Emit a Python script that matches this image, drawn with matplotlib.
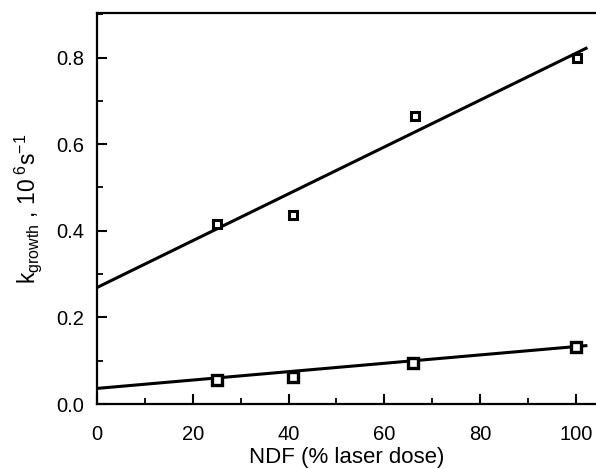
import matplotlib
matplotlib.use("Agg")
import matplotlib.pyplot as plt
from matplotlib.ticker import MultipleLocator

plt.rcParams['font.family'] = ['Liberation Sans', 'DejaVu Sans']
plt.rcParams['mathtext.fontset'] = 'custom'
plt.rcParams['mathtext.rm'] = 'Liberation Sans'
plt.rcParams['mathtext.it'] = 'Liberation Sans'

# measured points (NDF %, k_growth in 10^6 s^-1)
ndf_upper = [25, 41, 66.3, 100.3]
k_upper = [0.415, 0.436, 0.665, 0.800]
ndf_lower = [25, 41, 66, 100]
k_lower = [0.055, 0.063, 0.094, 0.132]

# fitted lines, end points
fit_x = [0, 102.4]
fit_upper = [0.269, 0.823]
fit_lower = [0.036, 0.135]

fig = plt.figure(figsize=(5.96, 4.69), dpi=100)
ax = fig.add_axes([97 / 596, 65 / 469, 499 / 596, 391 / 469])

ax.plot(fit_x, fit_upper, color='black', lw=2.2, solid_capstyle='butt')
ax.plot(fit_x, fit_lower, color='black', lw=2.2, solid_capstyle='butt')
ax.plot(ndf_upper, k_upper, ls='none', marker='s', ms=6, mfc='white',
        mec='black', mew=2.2)
ax.plot(ndf_lower, k_lower, ls='none', marker='s', ms=7, mfc='white',
        mec='black', mew=2.4)

ax.set_xlim(0, 104.2)
ax.set_ylim(0, 0.903)
ax.xaxis.set_major_locator(MultipleLocator(20))
ax.xaxis.set_minor_locator(MultipleLocator(10))
ax.yaxis.set_major_locator(MultipleLocator(0.2))
ax.yaxis.set_minor_locator(MultipleLocator(0.1))
ax.yaxis.set_major_formatter(plt.FuncFormatter(lambda v, p: f"{v:.1f}"))

ax.spines['right'].set_visible(False)
for s in ['left', 'bottom', 'top']:
    ax.spines[s].set_linewidth(1.6)

ax.tick_params(axis='both', which='major', direction='in', length=7, width=1.5,
               labelsize=14.5)
ax.tick_params(axis='both', which='minor', direction='in', length=4, width=1.3)
ax.tick_params(axis='x', which='major', pad=15)
ax.tick_params(axis='y', which='major', pad=9)

ax.set_xlabel('NDF (% laser dose)', fontsize=16, labelpad=2)
ax.set_ylabel(r'k$_{\mathrm{growth}}$ , 10$^{\ 6}$s$^{-1}$', fontsize=16.5,
              labelpad=9)

fig.savefig('out.png', dpi=100)
